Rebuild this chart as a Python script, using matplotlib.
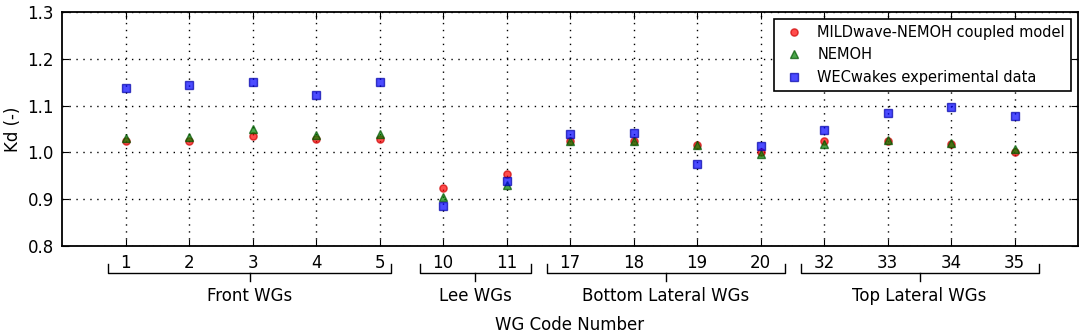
import numpy as np
import matplotlib
matplotlib.use("Agg")
import matplotlib.pyplot as plt
import matplotlib.transforms as mtransforms

wg_codes = ['1', '2', '3', '4', '5', '10', '11', '17', '18', '19', '20', '32', '33', '34', '35']
mildwave = [1.025, 1.025, 1.035, 1.028, 1.028, 0.923, 0.954, 1.024, 1.025, 1.016, 1.000,
            1.025, 1.024, 1.017, 1.000]
nemoh = [1.031, 1.032, 1.049, 1.037, 1.039, 0.905, 0.930, 1.024, 1.024, 1.016, 0.997,
         1.017, 1.026, 1.019, 1.007]
wecwakes = [1.137, 1.144, 1.150, 1.122, 1.150, 0.885, 0.939, 1.039, 1.041, 0.975, 1.014,
            1.048, 1.085, 1.098, 1.078]

groups = ['Front WGs', 'Lee WGs', 'Bottom Lateral WGs', 'Top Lateral WGs']
group_first = [0, 5, 7, 11]
group_last = [4, 6, 10, 14]

plt.rcParams['font.family'] = 'DejaVu Sans'

fig = plt.figure(figsize=(10.84, 3.35), dpi=100)
ax = fig.add_axes([0.0572, 0.266, 0.9373, 0.698])

x = np.arange(len(wg_codes))
ax.plot(x, mildwave, 'o', color='red', alpha=0.7, markersize=5.2,
        markeredgecolor='#cc0000', label='MILDwave-NEMOH coupled model', zorder=3)
ax.plot(x, nemoh, '^', color='green', alpha=0.7, markersize=5.4,
        markeredgecolor='#005500', label='NEMOH', zorder=3)
ax.plot(x, wecwakes, 's', color='blue', alpha=0.7, markersize=5.2,
        markeredgecolor='#0000aa', label='WECwakes experimental data', zorder=3)

ax.set_xlim(-1, len(wg_codes))
ax.set_ylim(0.8, 1.3)
ax.set_xticks(x)
ax.set_xticklabels(wg_codes)
ax.set_yticks(np.arange(0.8, 1.31, 0.1))
ax.tick_params(direction='in', top=True, right=True, labelsize=12, length=5, pad=6)
for s in ax.spines.values():
    s.set_linewidth(1.3)
ax.grid(True, color='black', linestyle=(0, (1, 4)), linewidth=1.0)
ax.set_axisbelow(True)
ax.set_ylabel('Kd (-)', fontsize=12)

ax.set_xlabel('WG Code Number', fontsize=12)
ax.xaxis.set_label_coords(0.5, -0.338)
ax.xaxis.label.set_va('center')

# brackets under the tick labels
trans = mtransforms.blended_transform_factory(ax.transData, ax.transAxes)
y_end, y_bar, y_mid, y_txt = -0.077, -0.117, -0.150, -0.214
for name, a, b in zip(groups, group_first, group_last):
    lo = a - (0.27 if a == 0 else 0.37)
    hi = b + (0.18 if a == 0 else 0.38)
    mid = (lo + hi) / 2
    ax.plot([lo, lo, hi, hi], [y_end, y_bar, y_bar, y_end], color='black',
            linewidth=1.0, transform=trans, clip_on=False)
    ax.plot([mid, mid], [y_bar, y_mid], color='black', linewidth=1.0,
            transform=trans, clip_on=False)
    ax.text(mid, y_txt, name, transform=trans, ha='center', va='center', fontsize=12)

leg = ax.legend(loc='upper right', numpoints=1, fontsize=10.5, fancybox=False,
                framealpha=1, borderaxespad=0.5, handletextpad=0.6)
leg.get_frame().set_edgecolor('black')
leg.get_frame().set_linewidth(1.2)

fig.savefig('out.png', dpi=100)
